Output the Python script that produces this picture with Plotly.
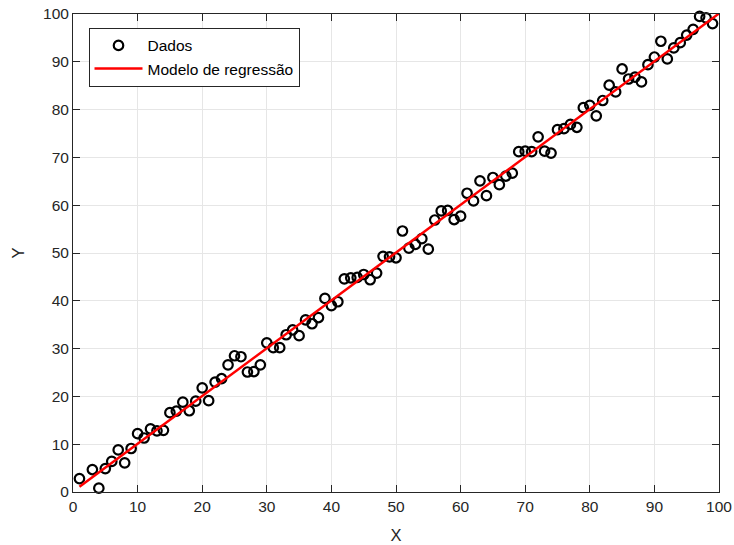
import numpy as np
import plotly.graph_objects as go

x_data = [1, 3, 4, 5, 6, 7, 8, 9, 10, 11, 12, 13, 14, 15, 16, 17, 18, 19, 20,
          21, 22, 23, 24, 25, 26, 27, 28, 29, 30, 31, 32, 33, 34, 35, 36, 37, 38, 39, 40,
          41, 42, 43, 44, 45, 46, 47, 48, 49, 50, 51, 52, 53, 54, 55, 56, 57, 58, 59, 60,
          61, 62, 63, 64, 65, 66, 67, 68, 69, 70, 71, 72, 73, 74, 75, 76, 77, 78, 79, 80,
          81, 82, 83, 84, 85, 86, 87, 88, 89, 90, 91, 92, 93, 94, 95, 96, 97, 98, 99]
y_data = [2.8, 4.7, 0.8, 4.9, 6.4, 8.8, 6.1, 9.1, 12.2, 11.3, 13.2, 12.8, 12.9, 16.6, 16.9, 18.8, 17.0, 19.0, 21.8,
          19.1, 23.0, 23.7, 26.6, 28.5, 28.3, 25.1, 25.2, 26.6, 31.2, 30.2, 30.2, 32.9, 33.9, 32.7, 36.0, 35.2, 36.5, 40.5, 39.0,
          39.8, 44.6, 44.8, 44.9, 45.5, 44.4, 45.8, 49.3, 49.2, 49.0, 54.6, 51.0, 51.8, 53.0, 50.8, 56.9, 58.8, 58.9, 57.0, 57.7,
          62.5, 60.9, 65.1, 62.0, 65.8, 64.3, 66.1, 66.7, 71.2, 71.3, 71.2, 74.3, 71.3, 70.9, 75.8, 76.0, 76.9, 76.3, 80.4, 80.9,
          78.7, 81.9, 85.1, 83.7, 88.5, 86.4, 86.8, 85.8, 89.4, 91.0, 94.3, 90.6, 92.9, 94.0, 95.6, 96.8, 99.5, 99.2, 98.0]
x_line = [1, 100]
tick_vals = list(range(0, 101, 10))

coef = np.polyfit(x_data, y_data, 1)
y_line = list(np.polyval(coef, x_line))

fig = go.Figure()
fig.add_trace(go.Scatter(
    x=x_data, y=y_data, mode="markers", name="Dados",
    marker=dict(symbol="circle-open", size=9.5, color="black", line=dict(width=2.2, color="black")),
    cliponaxis=False,
))
fig.add_trace(go.Scatter(
    x=x_line, y=y_line, mode="lines", name="Modelo de regressão",
    line=dict(color="#ff0000", width=2.5),
))

axis_common = dict(
    range=[0, 100], tickvals=tick_vals, showgrid=True, gridcolor="#e6e6e6", gridwidth=1,
    zeroline=False, showline=True, linecolor="#262626", linewidth=1, mirror="ticks",
    ticks="inside", ticklen=7, tickcolor="#262626", automargin=False,
    tickfont=dict(family="Liberation Sans, Arial, sans-serif", size=15.5, color="#262626"),
)

fig.update_layout(
    width=734, height=545,
    margin=dict(l=73, r=15, t=14, b=53),
    paper_bgcolor="white", plot_bgcolor="white",
    font=dict(family="Liberation Sans, Arial, sans-serif", size=15.5, color="#262626"),
    xaxis=dict(title=dict(text="X", font=dict(size=16.5), standoff=15), **axis_common),
    yaxis=dict(title=dict(text="Y", font=dict(size=16.5), standoff=14), **axis_common),
    legend=dict(x=0.024, y=0.971, xanchor="left", yanchor="top",
                bgcolor="white", bordercolor="#262626", borderwidth=1,
                font=dict(size=15.5, color="black"), tracegroupgap=0, itemwidth=48),
    showlegend=True,
)

fig.write_html("out.html")
